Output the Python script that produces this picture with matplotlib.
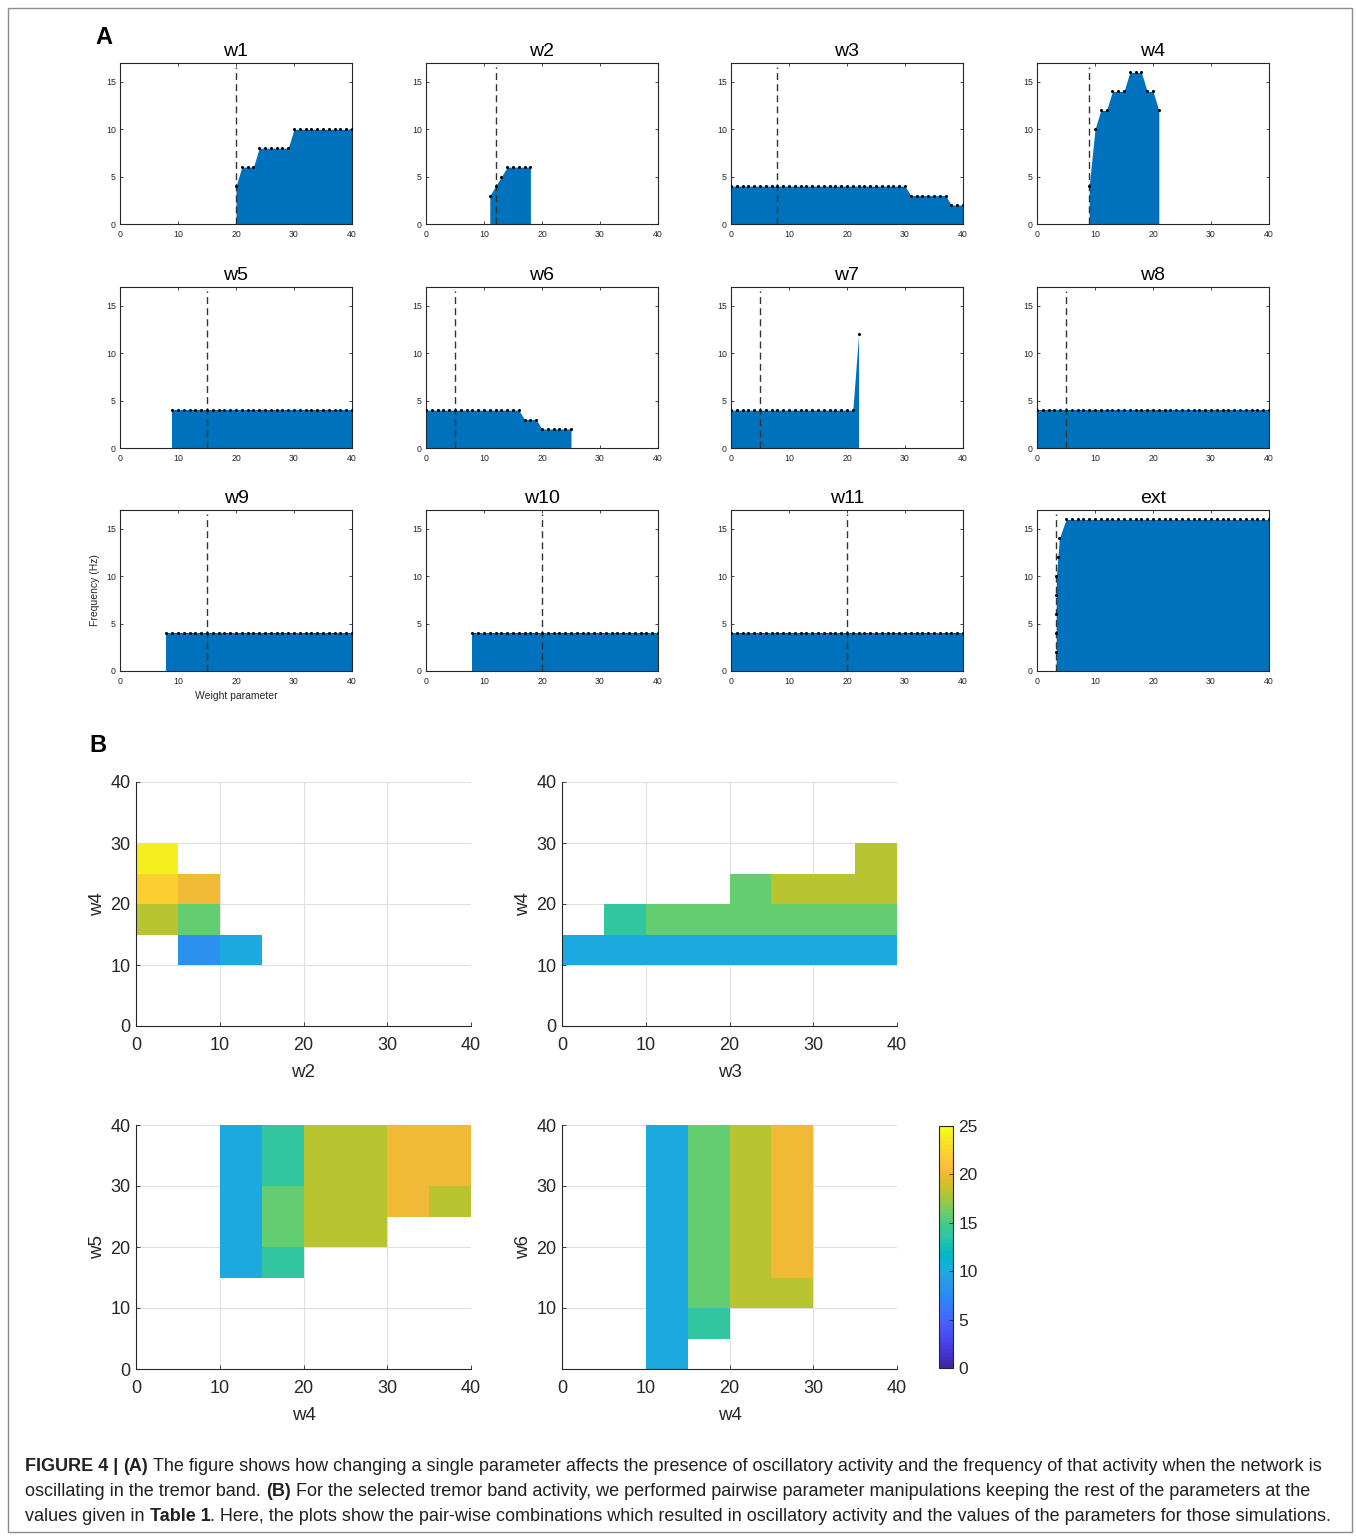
import numpy as np
import matplotlib
matplotlib.use("Agg")
import matplotlib.pyplot as plt
from matplotlib.colors import ListedColormap, Normalize
from matplotlib.patches import Rectangle

plt.rcParams['font.family'] = ['Liberation Sans', 'DejaVu Sans']

# ---------------- Panel A data ----------------
titles_a = ['w1', 'w2', 'w3', 'w4', 'w5', 'w6', 'w7', 'w8', 'w9', 'w10', 'w11', 'ext']
default_vals = [20, 12, 8, 9, 15, 5, 5, 5, 15, 20, 20, 3.3]

w1_x = list(range(20, 41))
w1_y = [4, 6, 6, 6, 8, 8, 8, 8, 8, 8, 10, 10, 10, 10, 10, 10, 10, 10, 10, 10, 10]
w2_x = list(range(11, 19))
w2_y = [3, 4, 5, 6, 6, 6, 6, 6]
w3_x = list(range(0, 41))
w3_y = [4, 4, 4, 4, 4, 4, 4, 4, 4, 4, 4, 4, 4, 4, 4, 4, 4, 4, 4, 4, 4, 4, 4, 4, 4, 4, 4, 4, 4, 4, 4,
        3, 3, 3, 3, 3, 3, 3, 2, 2, 2]
w4_x = list(range(9, 22))
w4_y = [4, 10, 12, 12, 14, 14, 14, 16, 16, 16, 14, 14, 12]
w5_x = list(range(9, 41))
w5_y = [4, 4, 4, 4, 4, 4, 4, 4, 4, 4, 4, 4, 4, 4, 4, 4, 4, 4, 4, 4, 4, 4, 4, 4, 4, 4, 4, 4, 4, 4, 4, 4]
w6_x = list(range(0, 26))
w6_y = [4, 4, 4, 4, 4, 4, 4, 4, 4, 4, 4, 4, 4, 4, 4, 4, 4, 3, 3, 3, 2, 2, 2, 2, 2, 2]
w7_x = list(range(0, 23))
w7_y = [4, 4, 4, 4, 4, 4, 4, 4, 4, 4, 4, 4, 4, 4, 4, 4, 4, 4, 4, 4, 4, 4, 12]
w8_x = list(range(0, 41))
w8_y = [4, 4, 4, 4, 4, 4, 4, 4, 4, 4, 4, 4, 4, 4, 4, 4, 4, 4, 4, 4, 4, 4, 4, 4, 4, 4, 4, 4, 4, 4, 4,
        4, 4, 4, 4, 4, 4, 4, 4, 4, 4]
w9_x = list(range(8, 41))
w9_y = [4, 4, 4, 4, 4, 4, 4, 4, 4, 4, 4, 4, 4, 4, 4, 4, 4, 4, 4, 4, 4, 4, 4, 4, 4, 4, 4, 4, 4, 4, 4, 4, 4]
w10_x = list(range(8, 41))
w10_y = [4, 4, 4, 4, 4, 4, 4, 4, 4, 4, 4, 4, 4, 4, 4, 4, 4, 4, 4, 4, 4, 4, 4, 4, 4, 4, 4, 4, 4, 4, 4, 4, 4]
w11_x = list(range(0, 41))
w11_y = [4, 4, 4, 4, 4, 4, 4, 4, 4, 4, 4, 4, 4, 4, 4, 4, 4, 4, 4, 4, 4, 4, 4, 4, 4, 4, 4, 4, 4, 4, 4,
         4, 4, 4, 4, 4, 4, 4, 4, 4, 4]
ext_x = [3.3, 3.3, 3.3, 3.3, 3.35, 3.6, 3.85] + list(range(5, 41))
ext_y = [2, 4, 6, 8, 10, 12, 14,
         16, 16, 16, 16, 16, 16, 16, 16, 16, 16, 16, 16, 16, 16, 16, 16, 16, 16,
         16, 16, 16, 16, 16, 16, 16, 16, 16, 16, 16, 16, 16, 16, 16, 16, 16, 16]

series_x = [w1_x, w2_x, w3_x, w4_x, w5_x, w6_x, w7_x, w8_x, w9_x, w10_x, w11_x, ext_x]
series_y = [w1_y, w2_y, w3_y, w4_y, w5_y, w6_y, w7_y, w8_y, w9_y, w10_y, w11_y, ext_y]

# ---------------- Panel B data ----------------
N = np.nan
bin_edges = [0, 5, 10, 15, 20, 25, 30, 35, 40]
# rows: y-bins from bottom (0-5) to top (35-40); columns: x-bins 0-5 ... 35-40
hm_w2_w4 = [
    [N, N, N, N, N, N, N, N],
    [N, N, N, N, N, N, N, N],
    [N, 8, 10, N, N, N, N, N],
    [18, 16, N, N, N, N, N, N],
    [22, 20, N, N, N, N, N, N],
    [24, N, N, N, N, N, N, N],
    [N, N, N, N, N, N, N, N],
    [N, N, N, N, N, N, N, N],
]
hm_w3_w4 = [
    [N, N, N, N, N, N, N, N],
    [N, N, N, N, N, N, N, N],
    [10, 10, 10, 10, 10, 10, 10, 10],
    [N, 14, 16, 16, 16, 16, 16, 16],
    [N, N, N, N, 16, 18, 18, 18],
    [N, N, N, N, N, N, N, 18],
    [N, N, N, N, N, N, N, N],
    [N, N, N, N, N, N, N, N],
]
hm_w4_w5 = [
    [N, N, N, N, N, N, N, N],
    [N, N, N, N, N, N, N, N],
    [N, N, N, N, N, N, N, N],
    [N, N, 10, 14, N, N, N, N],
    [N, N, 10, 16, 18, 18, N, N],
    [N, N, 10, 16, 18, 18, 20, 18],
    [N, N, 10, 14, 18, 18, 20, 20],
    [N, N, 10, 14, 18, 18, 20, 20],
]
hm_w4_w6 = [
    [N, N, 10, N, N, N, N, N],
    [N, N, 10, 14, N, N, N, N],
    [N, N, 10, 16, 18, 18, N, N],
    [N, N, 10, 16, 18, 20, N, N],
    [N, N, 10, 16, 18, 20, N, N],
    [N, N, 10, 16, 18, 20, N, N],
    [N, N, 10, 16, 18, 20, N, N],
    [N, N, 10, 16, 18, 20, N, N],
]
heatmaps = [hm_w2_w4, hm_w3_w4, hm_w4_w5, hm_w4_w6]
hm_xlabels = ['w2', 'w3', 'w4', 'w4']
hm_ylabels = ['w4', 'w4', 'w5', 'w6']
cbar_ticks = [0, 5, 10, 15, 20, 25]

parula = ListedColormap(np.array([
    [0.2422, 0.1504, 0.6603], [0.2504, 0.1650, 0.7076], [0.2578, 0.1818, 0.7511], [0.2647, 0.1978, 0.7952],
    [0.2706, 0.2147, 0.8364], [0.2751, 0.2342, 0.8710], [0.2783, 0.2559, 0.8991], [0.2803, 0.2782, 0.9221],
    [0.2813, 0.3006, 0.9414], [0.2810, 0.3228, 0.9579], [0.2795, 0.3447, 0.9717], [0.2760, 0.3667, 0.9829],
    [0.2699, 0.3892, 0.9906], [0.2602, 0.4123, 0.9952], [0.2440, 0.4358, 0.9988], [0.2206, 0.4603, 0.9973],
    [0.1963, 0.4847, 0.9892], [0.1834, 0.5074, 0.9798], [0.1786, 0.5289, 0.9682], [0.1764, 0.5499, 0.9520],
    [0.1687, 0.5703, 0.9359], [0.1540, 0.5902, 0.9218], [0.1460, 0.6091, 0.9079], [0.1380, 0.6276, 0.8973],
    [0.1248, 0.6459, 0.8883], [0.1113, 0.6635, 0.8763], [0.0952, 0.6798, 0.8598], [0.0689, 0.6948, 0.8394],
    [0.0297, 0.7082, 0.8163], [0.0036, 0.7203, 0.7917], [0.0067, 0.7312, 0.7660], [0.0433, 0.7411, 0.7394],
    [0.0964, 0.7500, 0.7120], [0.1408, 0.7584, 0.6842], [0.1717, 0.7670, 0.6554], [0.1938, 0.7758, 0.6251],
    [0.2161, 0.7843, 0.5923], [0.2470, 0.7918, 0.5567], [0.2906, 0.7973, 0.5188], [0.3406, 0.8008, 0.4789],
    [0.3909, 0.8029, 0.4354], [0.4456, 0.8024, 0.3909], [0.5044, 0.7993, 0.3480], [0.5616, 0.7942, 0.3045],
    [0.6174, 0.7876, 0.2612], [0.6720, 0.7793, 0.2227], [0.7242, 0.7698, 0.1910], [0.7738, 0.7598, 0.1646],
    [0.8203, 0.7498, 0.1535], [0.8634, 0.7406, 0.1596], [0.9035, 0.7330, 0.1774], [0.9393, 0.7288, 0.2100],
    [0.9728, 0.7298, 0.2394], [0.9956, 0.7434, 0.2371], [0.9970, 0.7659, 0.2199], [0.9952, 0.7893, 0.2028],
    [0.9892, 0.8136, 0.1885], [0.9786, 0.8386, 0.1766], [0.9676, 0.8639, 0.1643], [0.9610, 0.8890, 0.1537],
    [0.9597, 0.9135, 0.1423], [0.9628, 0.9373, 0.1265], [0.9691, 0.9606, 0.1064], [0.9769, 0.9839, 0.0805],
]), name='parula')

# ---------------- Figure ----------------
W, H = 1356, 1536
fig = plt.figure(figsize=(W / 100, H / 100), dpi=100)
TXT = '0.15'


def ax_px(l, t, w, h):
    return fig.add_axes([l / W, 1 - (t + h) / H, w / W, h / H])


# Panel A
col_l = [120, 426, 731, 1037]
row_t = [63, 287, 510]
for i in range(12):
    r, c = divmod(i, 4)
    ax = ax_px(col_l[c], row_t[r], 232, 161)
    x = series_x[i]
    y = series_y[i]
    ax.fill_between(x, 0, y, color='#0072BD', lw=0, zorder=2)
    ax.plot(x, y, ls='none', marker='o', ms=1.2, color='black', zorder=4)
    ax.plot([default_vals[i], default_vals[i]], [0, 16.6], color='0.2', lw=1.0,
            dashes=(5, 3), zorder=3)
    ax.set_xlim(0, 40)
    ax.set_ylim(0, 17)
    ax.set_xticks([0, 10, 20, 30, 40])
    ax.set_yticks([0, 5, 10, 15])
    ax.tick_params(direction='in', top=True, right=True, length=2, width=0.6,
                   labelsize=6.3, colors=TXT)
    ax.tick_params(axis='x', pad=4.5)
    ax.tick_params(axis='y', pad=3)
    for s in ax.spines.values():
        s.set_color('0.15')
        s.set_linewidth(0.8)
    ax.set_title(titles_a[i], fontsize=14, color='black', pad=5)

fig.text(95 / W, 1 - 590 / H, 'Frequency (Hz)', rotation=90, ha='center', va='center',
         fontsize=7.5, color=TXT)
fig.text(236 / W, 1 - 696 / H, 'Weight parameter', ha='center', va='center',
         fontsize=7.5, color=TXT)

fig.text(104 / W, 1 - 37 / H, 'A', ha='center', va='center', fontsize=17, fontweight='bold')
fig.text(98 / W, 1 - 745 / H, 'B', ha='center', va='center', fontsize=17, fontweight='bold')

# Panel B
hm_pos = [(136, 782), (562, 782), (136, 1125), (562, 1125)]
norm = Normalize(vmin=0, vmax=25)
mesh = None
for k in range(4):
    l, t = hm_pos[k]
    ax = ax_px(l, t, 335, 244)
    data = np.ma.masked_invalid(np.array(heatmaps[k], dtype=float))
    mesh = ax.pcolormesh(bin_edges, bin_edges, data, cmap=parula, norm=norm,
                         shading='flat', zorder=1)
    ax.set_xlim(0, 40)
    ax.set_ylim(0, 40)
    ax.set_xticks([0, 10, 20, 30, 40])
    if k == 3:
        ax.set_yticks([10, 20, 30, 40])
    else:
        ax.set_yticks([0, 10, 20, 30, 40])
    ax.set_axisbelow(True)
    ax.grid(True, color='0.88', lw=0.8)
    ax.spines['top'].set_visible(False)
    ax.spines['right'].set_visible(False)
    for s in ('left', 'bottom'):
        ax.spines[s].set_color('0.15')
        ax.spines[s].set_linewidth(0.8)
    ax.tick_params(direction='in', length=3, width=0.6, labelsize=13, colors=TXT)
    ax.tick_params(axis='x', pad=8)
    ax.tick_params(axis='y', pad=4)
    ax.set_xlabel(hm_xlabels[k], fontsize=13.5, color=TXT, labelpad=7)
    ax.set_ylabel(hm_ylabels[k], fontsize=13.5, color=TXT, labelpad=3)

cax = ax_px(939, 1126, 14, 242)
cb = fig.colorbar(mesh, cax=cax, ticks=cbar_ticks)
cb.outline.set_edgecolor('0.15')
cb.outline.set_linewidth(0.8)
cax.tick_params(direction='in', length=3, width=0.6, labelsize=12.5, colors=TXT, pad=4)

# Frame
fig.patches.append(Rectangle((8 / W, 1 - 1532 / H), (1352 - 8) / W, (1532 - 8) / H,
                             transform=fig.transFigure, fill=False, ec='0.55', lw=1.0))

# Caption
cap_size = 12.95
cap_color = '#231f20'
renderer = fig.canvas.get_renderer()


def text_w(s, bold):
    t = fig.text(0, 0, s, fontsize=cap_size, fontweight='bold' if bold else 'normal')
    w = t.get_window_extent(renderer).width
    t.remove()
    return w


space_w = text_w('a a', False) - text_w('aa', False)


def put_runs(y_px, runs):
    x = 25
    for s, bold, sp in runs:
        t = fig.text(x / W, 1 - y_px / H, s, fontsize=cap_size, va='baseline', ha='left',
                     fontweight='bold' if bold else 'normal', color=cap_color)
        x += t.get_window_extent(renderer).width
        if sp:
            x += space_w


put_runs(1471, [
    ('FIGURE 4 |', True, True), ('(A)', True, True),
    ('The figure shows how changing a single parameter affects the presence of oscillatory activity '
     'and the frequency of that activity when the network is', False, False)])
put_runs(1496, [
    ('oscillating in the tremor band.', False, True), ('(B)', True, True),
    ('For the selected tremor band activity, we performed pairwise parameter manipulations keeping '
     'the rest of the parameters at the', False, False)])
put_runs(1521, [
    ('values given in', False, True), ('Table 1', True, False),
    ('. Here, the plots show the pair-wise combinations which resulted in oscillatory activity and '
     'the values of the parameters for those simulations.', False, False)])

fig.savefig('out.png', dpi=100)
